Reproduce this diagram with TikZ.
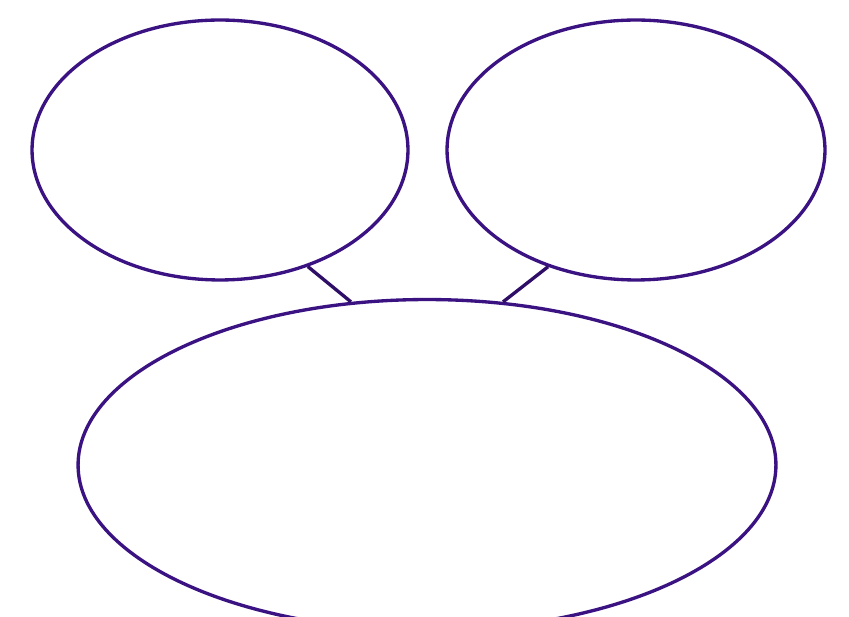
\documentclass[tikz,border=0pt]{standalone}
\usepackage{tikz}
\usetikzlibrary{shapes.geometric}
\definecolor{rim}{HTML}{3B1282}

\begin{document}
\begin{tikzpicture}[x=0.02cm,y=-0.02cm,
    bubble/.style={ellipse,draw=rim,line width=1.9pt,fill=white,inner sep=0pt},
    link/.style={draw=rim!80!black,line width=1.9pt}]
        \useasboundingbox (0,0) rectangle (849,617);
        \node[bubble,minimum width=7.52cm,minimum height=5.2cm] (left) at (220,150) {};
        \node[bubble,minimum width=7.56cm,minimum height=5.2cm] (right) at (636,150) {};
        \node[bubble,minimum width=13.96cm,minimum height=6.62cm] (main) at (427,465) {};
        \draw[link] (left.-53) -- (main.115);
        \draw[link] (right.-127) -- (main.65);
      \end{tikzpicture}
\end{document}
